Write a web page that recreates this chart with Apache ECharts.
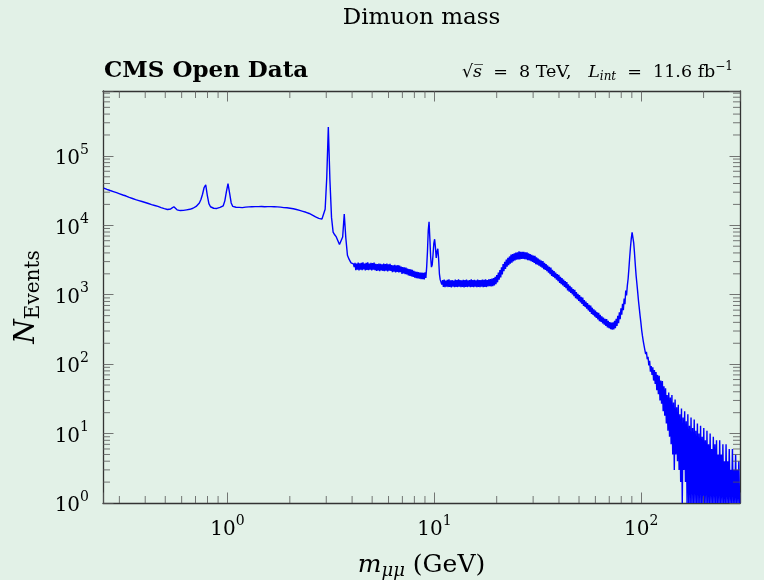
<!DOCTYPE html>
<html>
<head>
<meta charset="utf-8">
<script src="https://cdn.jsdelivr.net/npm/echarts@6/dist/echarts.min.js"></script>
<style>
html,body{margin:0;padding:0;background:#e2f1e7;}
#main{width:764px;height:580px;}
</style>
</head>
<body>
<div id="main"></div>
<script type="text/javascript">
	// histogram in two parts, each with log-spaced bins over its own mass range (GeV)
	var massMin = 0.25, massMid = 3.9, massMax = 300;
	var yMin = 1, yMax = 8.6e5;

	// 0.25 - 3.9 GeV, 155 bins
	var countsLow = [
		34400,33800,33000,32600,31700,31300,30600,30200,29500,29100,
		28400,28100,27300,27000,26400,26100,25200,24900,24300,24000,
		23400,23300,22700,22600,22000,21900,21300,21100,20600,20500,
		19900,19800,19300,19200,18700,18500,18000,17900,17400,17300,
		16900,16800,17200,18000,18500,17500,16700,16500,16300,16400,
		16400,16600,16700,17000,17000,17300,17600,18200,18700,19500,
		21000,23500,28000,35000,38400,27000,20500,18500,17900,17600,
		17400,17500,17700,18100,18600,19100,22500,30500,39700,29000,
		21000,18700,18300,18200,18000,18100,18200,18000,18200,18300,
		18200,18400,18300,18500,18400,18600,18500,18600,18500,18700,
		18600,18500,18700,18600,18500,18600,18400,18500,18300,18400,
		18200,18300,18100,18000,17900,17900,17700,17600,17500,17300,
		17100,16900,16700,16400,16200,15900,15700,15400,15100,14800,
		14400,14000,13600,13200,12900,12600,12400,12300,12900,17000,
		48000,261000,45000,13000,8000,7300,6800,6000,5300,5000,
		6800,14500,6500,3700,3250
	];

	// 3.9 - 300 GeV, 490 bins
	var countsHigh = [
		3050,2880, 2880,2700, 2780,2500, 2870,2260, 2800,2300,
		2900,2240, 2830,2290, 2880,2250, 2940,2310, 2810,2230,
		2870,2280, 2920,2250, 2820,2300, 2890,2240, 2850,2290,
		2900,2260, 2790,2200, 2760,2230, 2820,2180, 2780,2240,
		2750,2200, 2810,2190, 2770,2230, 2800,2170, 2740,2220,
		2790,2200, 2680,2110, 2650,2140, 2700,2100, 2640,2130,
		2670,2090, 2630,2120, 2540,1990, 2510,2020, 2490,1980,
		2460,1960, 2380,1890, 2340,1860, 2320,1840, 2280,1810,
		2200,1760, 2160,1730, 2140,1720, 2110,1700, 2090,1680,
		2080,1670, 2070,1660, 2100,1750, 2500,4200, 8500,11200,
		6500,3500, 2500,2700, 3800,5500, 6300,4800, 3400,4200,
		4600,3300, 2000,1650, 1520,1400, 1620,1300, 1650,1280,
		1600,1310, 1640,1290, 1660,1300, 1610,1270, 1630,1310,
		1600,1280, 1650,1300, 1620,1290, 1660,1310, 1630,1280,
		1610,1300, 1640,1270, 1620,1300, 1650,1290, 1610,1310,
		1630,1280, 1660,1300, 1620,1290, 1640,1310, 1610,1280,
		1650,1300, 1630,1290, 1620,1310, 1650,1280, 1640,1300,
		1660,1290, 1630,1320, 1670,1330, 1680,1320, 1710,1330,
		1740,1360, 1810,1420, 1920,1510, 2090,1650, 2260,1780,
		2480,1960, 2770,2180, 2990,2360, 3220,2540, 3390,2670,
		3560,2800, 3780,2900, 3840,3030, 3960,3120, 4050,3190,
		4090,3220, 4220,3230, 4160,3280, 4160,3280, 4140,3260,
		4090,3220, 4080,3140, 3960,3120, 3860,3040, 3760,2960,
		3660,2880, 3620,2760, 3450,2710, 3330,2630, 3220,2540,
		3110,2450, 3050,2330, 2880,2270, 2770,2180, 2640,2080,
		2520,1980, 2460,1870, 2290,1810, 2190,1730, 2090,1650,
		1990,1570, 1940,1480, 1810,1420, 1730,1360, 1650,1300,
		1570,1240, 1520,1150, 1410,1110, 1340,1060, 1280,1010,
		1210,950, 1180,895, 1090,860, 1030,815, 985,775,
		930,735, 910,690, 840,665, 795,630, 755,595,
		715,565, 700,530, 650,510, 615,485, 590,465,
		560,440, 550,415, 515,405, 490,385, 470,370,
		450,355, 445,338, 420,330, 405,320, 398,313,
		400,316, 420,330, 450,356, 495,390, 560,445,
		640,515, 740,600, 880,730, 1150,980, 1350,1700,
		2400,3500, 4900,6500, 7900,7600, 5600,4000, 2700,1900,
		1450,1100, 820,640, 500,400, 310,255, 215,185,
		175,140, 150,118, 128,96, 112,78, 94,70,
		90,58, 82,52, 77,42, 70,37, 68,30,
		58,27, 57,21, 48,18, 45,14, 36,11,
		39,9, 33,7, 36,5, 28,3, 31,5,
		24,4, 26,3, 19,2, 23,1, 17,3,
		21,2, 15,1, 19,1, 13,1, 17,1,
		12,1, 16,1, 11,1, 14,1, 10,1,
		13,1, 9,1, 12,1, 8,1, 11,1,
		7,1, 10,1, 6,1, 9,1, 7,1,
		8,1, 5,1, 8,1, 5,1, 7,1,
		4,1, 7,1, 4,1, 6,1, 3,1,
		6,1, 3,1, 5,1, 3,1, 4,1
	];

	var serif = '"DejaVu Serif"';
	var majorLen = 10.5, minorLen = 7;
	var tickStyle = {stroke:'#555', lineWidth:0.8};

	// bin centres of one part
	function binned(lo, hi, counts){
		var a = Math.log10(lo), step = (Math.log10(hi) - a) / counts.length;
		return counts.map(function(n, i){ return [Math.pow(10, a + (i + 0.5) * step), n]; });
	}
	var histData = binned(massMin, massMid, countsLow).concat(binned(massMid, massMax, countsHigh));

	// minor ticks 2..9 of each decade
	function minorTicks(lo, hi){
		var out = [];
		for(var k = Math.floor(Math.log10(lo)); k <= Math.ceil(Math.log10(hi)); k++){
			for(var d = 2; d <= 9; d++){
				var v = d * Math.pow(10, k);
				if(v > lo && v < hi) out.push(v);
			}
		}
		return out;
	}
	var xMinor = minorTicks(massMin, massMax);
	var yMinor = minorTicks(yMin, yMax);

	var tickRich = {
		b:{fontFamily:serif, fontSize:20, lineHeight:26, color:'#000', verticalAlign:'bottom'},
		s:{fontFamily:serif, fontSize:14, lineHeight:14, color:'#000', verticalAlign:'top'}
	};
	function powLabel(v){
		var l = Math.log10(v), e = Math.round(l);
		if(Math.abs(l - e) > 1e-6) return '';
		return '{b|10}{s|' + e + '}';
	}

	function logAxis(min, max, pos, labels){
		return {
			type:'log', logBase:10, min:min, max:max, position:pos,
			axisLine:{show:true, lineStyle:{color:'#333', width:1.3}},
			axisTick:{show:true, inside:true, length:majorLen, lineStyle:{color:'#555', width:0.8}},
			splitLine:{show:false},
			axisLabel:{show:labels, formatter:powLabel, rich:tickRich, margin:pos === 'bottom' ? 11 : 14}
		};
	}

	var xBottom = logAxis(massMin, massMax, 'bottom', true);
	xBottom.name = '{m|m}{sub|μμ}{r| (GeV)}';
	xBottom.nameLocation = 'middle';
	xBottom.nameGap = 47;
	xBottom.nameTextStyle = {rich:{
		m:{fontFamily:serif, fontStyle:'italic', fontSize:25, lineHeight:30, color:'#000'},
		sub:{fontFamily:serif, fontStyle:'italic', fontSize:18, lineHeight:18, color:'#000', verticalAlign:'bottom'},
		r:{fontFamily:serif, fontSize:25, lineHeight:30, color:'#000'}
	}};
	var xTop = logAxis(massMin, massMax, 'top', false);

	var yLeft = logAxis(yMin, yMax, 'left', true);
	yLeft.name = '{n|N}{sub|Events}';
	yLeft.nameLocation = 'middle';
	yLeft.nameRotate = 90;
	yLeft.nameGap = 58;
	yLeft.nameTextStyle = {rich:{
		n:{fontFamily:serif, fontStyle:'italic', fontSize:28, lineHeight:34, color:'#000'},
		sub:{fontFamily:serif, fontSize:20, lineHeight:20, color:'#000', verticalAlign:'bottom'}
	}};
	var yRight = logAxis(yMin, yMax, 'right', false);

	var myChart = echarts.init(document.getElementById('main'));

	var option = {
		backgroundColor:'#e2f1e7',
		animation:false,
		grid:{left:103, right:24, top:91, bottom:77, outerBoundsMode:'none'},
		xAxis:[xBottom, xTop],
		yAxis:[yLeft, yRight],
		graphic:[
			{type:'text', x:421.5, y:18, style:{text:'Dimuon mass', font:'23px ' + serif, fill:'#000', align:'center', verticalAlign:'middle'}},
			{type:'text', x:104, y:71, style:{text:'CMS Open Data', font:'bold 23px ' + serif, fill:'#000', align:'left', verticalAlign:'middle'}},
			{type:'text', x:733, y:72, style:{
				text:'{r|√}{i|s\u0305}{r|  =  8 TeV,   }{i|L}{sub|int}{r|  =  11.6 fb}{sup|−1}',
				align:'right', verticalAlign:'middle',
				rich:{
					r:{fontFamily:serif, fontSize:17.5, lineHeight:22, fill:'#000'},
					i:{fontFamily:serif, fontStyle:'italic', fontSize:17.5, lineHeight:22, fill:'#000'},
					sub:{fontFamily:serif, fontStyle:'italic', fontSize:12, lineHeight:12, fill:'#000', verticalAlign:'bottom'},
					sup:{fontFamily:serif, fontSize:12, lineHeight:12, fill:'#000', verticalAlign:'top'}
				}
			}}
		],
		series:[
			{
				name:'events', type:'line', xAxisIndex:0, yAxisIndex:0,
				data:histData, showSymbol:false, symbol:'none',
				lineStyle:{color:'#0000ff', width:1.4},
				z:2
			},
			{
				// minor ticks on bottom and top edges
				type:'custom', xAxisIndex:0, yAxisIndex:0, silent:true, z:3,
				data:xMinor.map(function(v){ return [v, yMin]; }),
				renderItem:function(params, api){
					var v = api.value(0);
					var b = api.coord([v, yMin]), t = api.coord([v, yMax]);
					return {type:'group', children:[
						{type:'line', shape:{x1:b[0], y1:b[1], x2:b[0], y2:b[1] - minorLen}, style:tickStyle},
						{type:'line', shape:{x1:t[0], y1:t[1], x2:t[0], y2:t[1] + minorLen}, style:tickStyle}
					]};
				}
			},
			{
				// minor ticks on left and right edges
				type:'custom', xAxisIndex:0, yAxisIndex:0, silent:true, z:3,
				data:yMinor.map(function(v){ return [massMin, v]; }),
				renderItem:function(params, api){
					var v = api.value(1);
					var l = api.coord([massMin, v]), r = api.coord([massMax, v]);
					return {type:'group', children:[
						{type:'line', shape:{x1:l[0], y1:l[1], x2:l[0] + minorLen, y2:l[1]}, style:tickStyle},
						{type:'line', shape:{x1:r[0], y1:r[1], x2:r[0] - minorLen, y2:r[1]}, style:tickStyle}
					]};
				}
			}
		]
	};

	myChart.setOption(option);
</script>
</body>
</html>
